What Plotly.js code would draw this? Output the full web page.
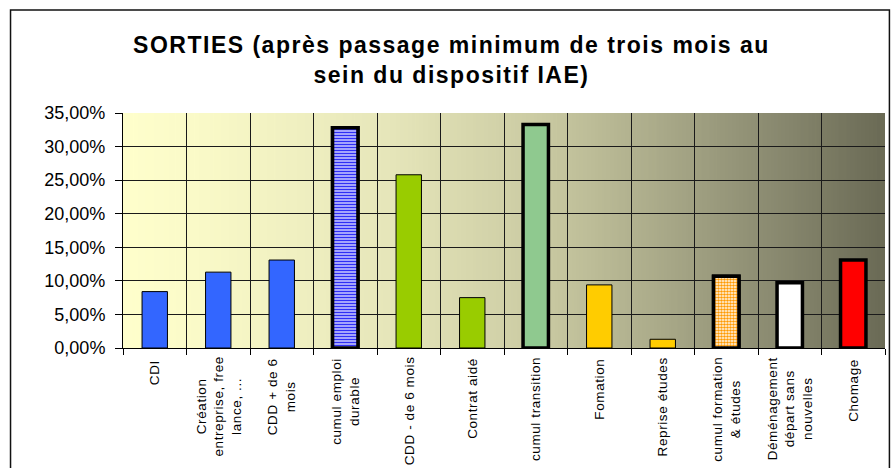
<!DOCTYPE html>
<html>
<head>
<meta charset="utf-8">
<script src="https://cdn.plot.ly/plotly-3.0.1.min.js"></script>
<style>
html,body{margin:0;padding:0;background:#fff;}
#chart{width:894px;height:468px;}
#chart .gtitle{letter-spacing:1.5px;}
#chart .annotation-text{letter-spacing:0.6px;}
</style>
</head>
<body>
<div id="chart"></div>
<script>
// ---- data ----
const categories = [
  "CDI",
  "Création<br>entreprise, free<br>lance, ...",
  "CDD + de 6<br>mois",
  "cumul emploi<br>durable",
  "CDD - de 6 mois",
  "Contrat aidé",
  "cumul transition",
  "Fomation",
  "Reprise études",
  "cumul formation<br>& études",
  "Déménagement<br>départ sans<br>nouvelles",
  "Chomage"
];
const values = [0.084, 0.113, 0.131, 0.328, 0.258, 0.075, 0.333, 0.094, 0.013, 0.107, 0.097, 0.131];
const yTicks = [0, 0.05, 0.10, 0.15, 0.20, 0.25, 0.30, 0.35];

// ---- styles ----
const barColors = ["#3366FF","#3366FF","#3366FF","#B4B4FF","#99CC00","#99CC00","#8FC98F","#FFCC00","#FFCC00","#FFD9A0","#FFFFFF","#FF0000"];
const lineWidths = [1,1,1,3.5,1,1,3.5,1,1,3.5,3.5,3.5];

// gradient background image
const cv = document.createElement('canvas');
cv.width = 400; cv.height = 2;
const ctx = cv.getContext('2d');
const g = ctx.createLinearGradient(0,0,400,0);
g.addColorStop(0.0, '#FFFFCC');
g.addColorStop(0.1, '#FAFAC8');
g.addColorStop(0.35, '#E6E6BA');
g.addColorStop(0.55, '#CACAA2');
g.addColorStop(0.7, '#ABAB8A');
g.addColorStop(0.85, '#8B8B71');
g.addColorStop(1.0, '#6A6A55');
ctx.fillStyle = g; ctx.fillRect(0,0,400,2);
const bgUrl = cv.toDataURL('image/png');

const mainTrace = {
  type: 'bar',
  x: categories,
  y: values,
  marker: {color: barColors, line: {color: '#000000', width: lineWidths}},
  hoverinfo: 'none'
};
const stripeTrace = {
  type: 'bar',
  x: [categories[3]],
  y: [values[3]],
  marker: {
    color: '#BDBDFF',
    line: {color: '#000000', width: 3.5},
    pattern: {shape: '-', fgcolor: '#2F2FF5', fgopacity: 1, size: 3, solidity: 0.45, fillmode: 'overlay'}
  },
  hoverinfo: 'none'
};
const dotTrace = {
  type: 'bar',
  x: [categories[9]],
  y: [values[9]],
  marker: {
    color: '#FFFFFF',
    line: {color: '#000000', width: 3.5},
    pattern: {shape: '.', fgcolor: '#FF9900', fgopacity: 1, size: 3, solidity: 0.6, fillmode: 'overlay'}
  },
  hoverinfo: 'none'
};

const annotations = categories.map(c => ({
  x: c, xref: 'x', y: 0, yref: 'paper',
  text: c, showarrow: false, textangle: -90,
  xanchor: 'center', yanchor: 'top', yshift: -11, align: 'center',
  font: {family: 'Liberation Sans, Arial, sans-serif', size: 13.5, color: '#000'}
}));

const layout = {
  width: 894, height: 468,
  margin: {l: 122.6, r: 8.5, t: 113, b: 120, pad: 0},
  paper_bgcolor: '#FFFFFF',
  plot_bgcolor: 'rgba(0,0,0,0)',
  separators: ', ',
  showlegend: false,
  barmode: 'overlay',
  bargap: 0.6,
  title: {
    text: 'SORTIES (après passage minimum de trois mois au<br>sein du dispositif IAE)',
    font: {family: 'Liberation Sans, Arial, sans-serif', size: 23, color: '#000', weight: 'bold'},
    x: 0.505, xref: 'container', xanchor: 'center',
    y: 0.887, yref: 'container', yanchor: 'middle'
  },
  xaxis: {
    type: 'category',
    categoryorder: 'array', categoryarray: categories,
    tickson: 'boundaries',
    ticks: 'outside', ticklen: 6, tickcolor: '#000', tickwidth: 1,
    showgrid: true, gridcolor: '#1a1a1a', gridwidth: 1,
    showline: true, linecolor: '#000', linewidth: 1,
    showticklabels: false,
    zeroline: false
  },
  yaxis: {
    range: [0, 0.35],
    tickvals: yTicks,
    tickformat: '.2%',
    ticks: 'outside', ticklen: 7, tickcolor: '#000', tickwidth: 1,
    ticklabelstandoff: 6,
    showgrid: true, gridcolor: '#1a1a1a', gridwidth: 1,
    showline: true, linecolor: '#000', linewidth: 1,
    zeroline: false,
    tickfont: {family: 'Liberation Sans, Arial, sans-serif', size: 18, color: '#000'}
  },
  images: [{
    source: bgUrl, xref: 'paper', yref: 'paper',
    x: 0, y: 1, sizex: 1, sizey: 1, sizing: 'stretch',
    xanchor: 'left', yanchor: 'top', layer: 'below'
  }],
  shapes: [{
    type: 'rect', xref: 'paper', yref: 'paper',
    x0: -0.1476, x1: 1.0058, y0: -0.62, y1: 1.438,
    line: {color: '#111', width: 1.5}, fillcolor: 'rgba(0,0,0,0)', layer: 'above'
  }],
  annotations: annotations
};

Plotly.newPlot('chart', [mainTrace, stripeTrace, dotTrace], layout, {displayModeBar: false, staticPlot: true});
</script>
</body>
</html>
